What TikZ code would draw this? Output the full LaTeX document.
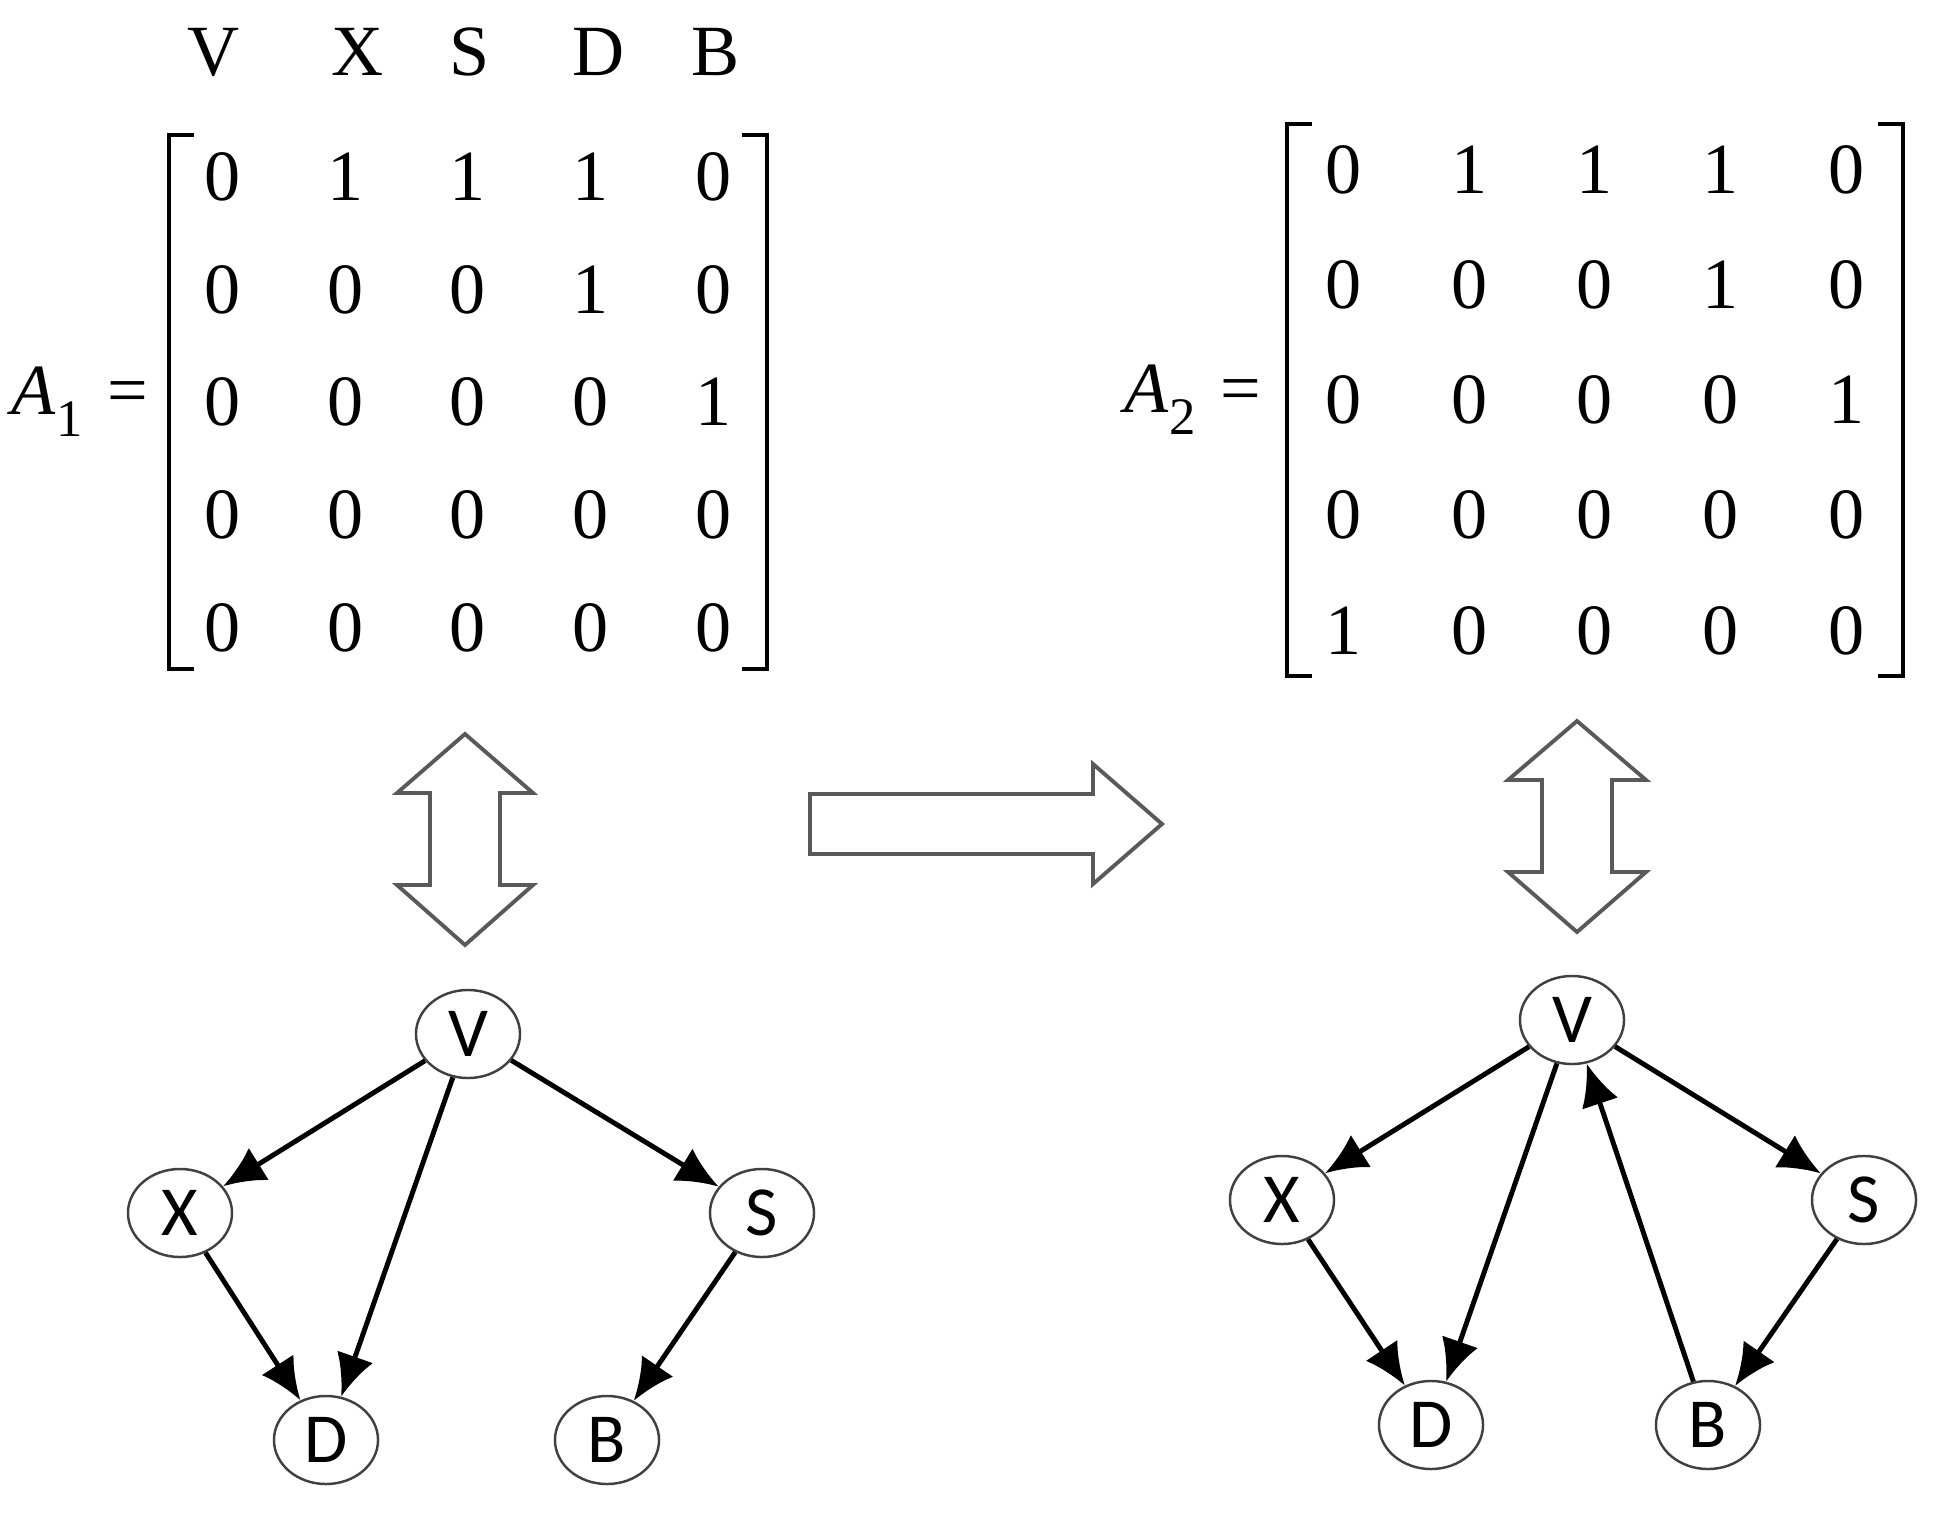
\documentclass[tikz,border=0pt]{standalone}
\usepackage{fontspec}
\setmainfont{Liberation Serif}
\newfontfamily\graphfont{Carlito}
\usetikzlibrary{matrix,arrows.meta,positioning,shapes.geometric}

\begin{document}
\begin{tikzpicture}[
       x=0.01cm, y=-0.01cm,
       vnode/.style={
         ellipse,
         draw=black!75,
         line width=0.7pt,
         inner sep=0pt,
         minimum width=1.04cm,
         minimum height=0.88cm,
         font=\graphfont\fontsize{20}{20}\selectfont
       },
       link/.style={
         line width=1.4pt,
         -{Latex[length=0.42cm,width=0.38cm]}
       },
       mfont/.style={font=\fontsize{20.5}{24}\selectfont},
       brk/.style={line width=1pt},
       hollow/.style={draw=black!65, line width=1.1pt}
     ]

       \useasboundingbox (0,0) rectangle (1948,1518);

       % column labels
       \node (lv) at (214,52) [mfont]{V};
       \node (lx) at (358,52) [mfont]{X};
       \node (ls) at (470,52) [mfont]{S};
       \node (ld) at (599,52) [mfont]{D};
       \node (lb) at (716,52) [mfont]{B};

       % first matrix
       \matrix (m1) at (468,402) [matrix of nodes, inner sep=0pt,
         column sep=0.165cm, row sep=0.305cm,
         nodes={mfont, inner sep=0pt, minimum width=1.06cm, minimum height=0.82cm}]{
         0 & 1 & 1 & 1 & 0 \\
         0 & 0 & 0 & 1 & 0 \\
         0 & 0 & 0 & 0 & 1 \\
         0 & 0 & 0 & 0 & 0 \\
         0 & 0 & 0 & 0 & 0 \\
       };
       \draw[brk] ([xshift=2.5mm]m1.north west) -- (m1.north west) -- (m1.south west) -- ++(25,0);
       \draw[brk] ([xshift=-2.5mm]m1.north east) -- (m1.north east) -- (m1.south east) -- ++(-25,0);
       \node (a1) [left=0.2cm of m1, inner sep=0pt, mfont]{\textit{A}\raisebox{-0.3em}{\fontsize{15}{15}\selectfont 1}\hspace{0.35em}=};

       % second matrix
       \matrix (m2) at (1595,400) [matrix of nodes, inner sep=0pt,
         column sep=0.135cm, row sep=0.25cm,
         nodes={mfont, inner sep=0pt, minimum width=1.12cm, minimum height=0.9cm}]{
         0 & 1 & 1 & 1 & 0 \\
         0 & 0 & 0 & 1 & 0 \\
         0 & 0 & 0 & 0 & 1 \\
         0 & 0 & 0 & 0 & 0 \\
         1 & 0 & 0 & 0 & 0 \\
       };
       \draw[brk] ([xshift=2.5mm]m2.north west) -- (m2.north west) -- (m2.south west) -- ++(25,0);
       \draw[brk] ([xshift=-2.5mm]m2.north east) -- (m2.north east) -- (m2.south east) -- ++(-25,0);
       \node (a2) [left=0.25cm of m2, inner sep=0pt, mfont]{\textit{A}\raisebox{-0.3em}{\fontsize{15}{15}\selectfont 2}\hspace{0.35em}=};

       % hollow arrows
       \draw[hollow] (465,734) -- (533,793) -- (500,793) -- (500,885) -- (533,885) -- (465,945)
         -- (397,885) -- (430,885) -- (430,793) -- (397,793) -- cycle;
       \draw[hollow] (810,794) -- (1093,794) -- (1093,764) -- (1162,824) -- (1093,884)
         -- (1093,854) -- (810,854) -- cycle;
       \draw[hollow] (1577,721) -- (1646,780) -- (1612,780) -- (1612,872) -- (1646,872) -- (1577,932)
         -- (1508,872) -- (1542,872) -- (1542,780) -- (1508,780) -- cycle;

       % first graph
       \node (v1) at (468,1034) [vnode]{V};
       \node (x1) at (180,1213) [vnode]{X};
       \node (s1) at (762,1213) [vnode]{S};
       \node (d1) at (326,1440) [vnode]{D};
       \node (b1) at (607,1440) [vnode]{B};

       \draw[link] (v1) -- (x1);
       \draw[link] (v1) -- (d1);
       \draw[link] (v1) -- (s1);
       \draw[link] (x1) -- (d1);
       \draw[link] (s1) -- (b1);

       % second graph
       \node (v2) at (1572,1020) [vnode]{V};
       \node (x2) at (1282,1200) [vnode]{X};
       \node (s2) at (1864,1200) [vnode]{S};
       \node (d2) at (1431,1425) [vnode]{D};
       \node (b2) at (1708,1425) [vnode]{B};

       \draw[link] (v2) -- (x2);
       \draw[link] (v2) -- (d2);
       \draw[link] (v2) -- (s2);
       \draw[link] (x2) -- (d2);
       \draw[link] (s2) -- (b2);
       \draw[link] (b2) -- (v2);

\end{tikzpicture}
\end{document}
